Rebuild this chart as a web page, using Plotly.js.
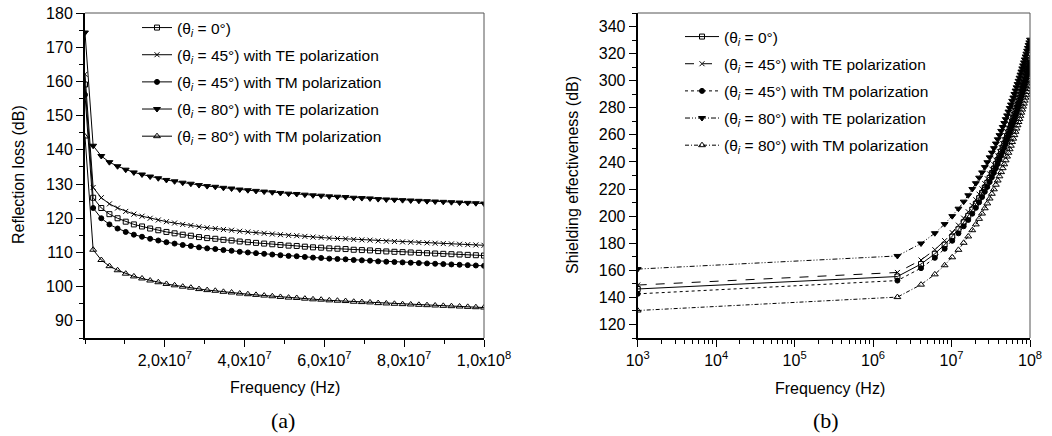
<!DOCTYPE html>
<html>
<head>
<meta charset="utf-8">
<script src="https://cdn.plot.ly/plotly-3.0.1.min.js"></script>
<style>html,body{margin:0;padding:0;background:#fff;}#chart{width:1052px;height:436px;}</style>
</head>
<body>
<div id="chart"></div>
<script>
// Frequency points (Hz)
const freq = [1e3, 2.042e6, 4.083e6, 6.123e6, 8.164e6, 1.0205e7, 1.2246e7, 1.4287e7, 1.6327e7, 1.8368e7,
  2.0409e7, 2.2450e7, 2.4490e7, 2.6531e7, 2.8572e7, 3.0613e7, 3.2654e7, 3.4695e7, 3.6735e7, 3.8776e7,
  4.0817e7, 4.2858e7, 4.4899e7, 4.6939e7, 4.8980e7, 5.1021e7, 5.3062e7, 5.5103e7, 5.7143e7, 5.9184e7,
  6.1225e7, 6.3266e7, 6.5307e7, 6.7347e7, 6.9388e7, 7.1429e7, 7.3470e7, 7.5511e7, 7.7551e7, 7.9592e7,
  8.1633e7, 8.3674e7, 8.5715e7, 8.7755e7, 8.9796e7, 9.1837e7, 9.3878e7, 9.5919e7, 9.7959e7, 1.0e8];

// (a) Reflection loss (dB)
const rl_0 = [159.1, 126.0, 123.0, 121.2, 120.0, 119.0, 118.2, 117.6, 117.0, 116.5, 116.0, 115.6, 115.2, 114.9, 114.5, 114.2, 114.0, 113.7, 113.5, 113.2, 113.0, 112.8, 112.6, 112.4, 112.2, 112.0, 111.9, 111.7, 111.5, 111.4, 111.2, 111.1, 111.0, 110.8, 110.7, 110.6, 110.4, 110.3, 110.2, 110.1, 110.0, 109.9, 109.8, 109.7, 109.6, 109.5, 109.4, 109.3, 109.2, 109.1];
const rl_45TE = [162.1, 129.0, 126.0, 124.2, 123.0, 122.0, 121.2, 120.6, 120.0, 119.5, 119.0, 118.6, 118.2, 117.9, 117.5, 117.2, 117.0, 116.7, 116.5, 116.2, 116.0, 115.8, 115.6, 115.4, 115.2, 115.0, 114.9, 114.7, 114.5, 114.4, 114.2, 114.1, 114.0, 113.8, 113.7, 113.6, 113.4, 113.3, 113.2, 113.1, 113.0, 112.9, 112.8, 112.7, 112.6, 112.5, 112.4, 112.3, 112.2, 112.1];
const rl_45TM = [156.1, 123.0, 120.0, 118.2, 117.0, 116.0, 115.2, 114.6, 114.0, 113.5, 113.0, 112.6, 112.2, 111.9, 111.5, 111.2, 111.0, 110.7, 110.5, 110.2, 110.0, 109.8, 109.6, 109.4, 109.2, 109.0, 108.9, 108.7, 108.5, 108.4, 108.2, 108.1, 108.0, 107.8, 107.7, 107.6, 107.4, 107.3, 107.2, 107.1, 107.0, 106.9, 106.8, 106.7, 106.6, 106.5, 106.4, 106.3, 106.2, 106.1];
const rl_80TE = [174.3, 141.2, 138.2, 136.4, 135.2, 134.2, 133.4, 132.8, 132.2, 131.7, 131.2, 130.8, 130.4, 130.1, 129.7, 129.4, 129.2, 128.9, 128.7, 128.4, 128.2, 128.0, 127.8, 127.6, 127.4, 127.2, 127.1, 126.9, 126.7, 126.6, 126.4, 126.3, 126.2, 126.0, 125.9, 125.8, 125.6, 125.5, 125.4, 125.3, 125.2, 125.1, 125.0, 124.9, 124.8, 124.7, 124.6, 124.5, 124.4, 124.3];
const rl_80TM = [143.9, 110.8, 107.8, 106.0, 104.8, 103.8, 103.0, 102.4, 101.8, 101.3, 100.8, 100.4, 100.0, 99.7, 99.3, 99.0, 98.8, 98.5, 98.3, 98.0, 97.8, 97.6, 97.4, 97.2, 97.0, 96.8, 96.7, 96.5, 96.3, 96.2, 96.0, 95.9, 95.8, 95.6, 95.5, 95.4, 95.2, 95.1, 95.0, 94.9, 94.8, 94.7, 94.6, 94.5, 94.4, 94.3, 94.2, 94.1, 94.0, 93.9];

// (b) Shielding effectiveness (dB)
const se_0 = [146.2, 155.4, 164.6, 172.2, 178.9, 184.8, 190.3, 195.5, 200.2, 204.8, 209.1, 213.2, 217.1, 221.0, 224.6, 228.2, 231.7, 235.0, 238.4, 241.5, 244.6, 247.7, 250.6, 253.5, 256.4, 259.2, 262.0, 264.6, 267.2, 269.9, 272.4, 275.0, 277.5, 279.9, 282.3, 284.7, 287.0, 289.3, 291.6, 293.9, 296.1, 298.3, 300.5, 302.7, 304.8, 306.9, 309.0, 311.1, 313.1, 315.1];
const se_45TE = [149.1, 158.4, 167.6, 175.2, 181.9, 187.8, 193.3, 198.5, 203.2, 207.8, 212.1, 216.2, 220.1, 224.0, 227.6, 231.2, 234.7, 238.0, 241.4, 244.5, 247.6, 250.7, 253.6, 256.5, 259.4, 262.2, 265.0, 267.6, 270.2, 272.9, 275.4, 278.0, 280.5, 282.9, 285.3, 287.7, 290.0, 292.3, 294.6, 296.9, 299.1, 301.3, 303.5, 305.7, 307.8, 309.9, 312.0, 314.1, 316.1, 318.1];
const se_45TM = [142.6, 152.4, 161.6, 169.2, 175.9, 181.8, 187.3, 192.5, 197.2, 201.8, 206.1, 210.2, 214.1, 218.0, 221.6, 225.2, 228.7, 232.0, 235.4, 238.5, 241.6, 244.7, 247.6, 250.5, 253.4, 256.2, 259.0, 261.6, 264.2, 266.9, 269.4, 272.0, 274.5, 276.9, 279.3, 281.7, 284.0, 286.3, 288.6, 290.9, 293.1, 295.3, 297.5, 299.7, 301.8, 303.9, 306.0, 308.1, 310.1, 312.1];
const se_80TE = [160.9, 170.6, 179.8, 187.4, 194.1, 200.0, 205.5, 210.7, 215.4, 220.0, 224.3, 228.4, 232.3, 236.2, 239.8, 243.4, 246.9, 250.2, 253.6, 256.7, 259.8, 262.9, 265.8, 268.7, 271.6, 274.4, 277.2, 279.8, 282.4, 285.1, 287.6, 290.2, 292.7, 295.1, 297.5, 299.9, 302.2, 304.5, 306.8, 309.1, 311.3, 313.5, 315.7, 317.9, 320.0, 322.1, 324.2, 326.3, 328.3, 330.3];
const se_80TM = [130.3, 140.2, 149.4, 157.0, 163.7, 169.6, 175.1, 180.3, 185.0, 189.6, 193.9, 198.0, 201.9, 205.8, 209.4, 213.0, 216.5, 219.8, 223.2, 226.3, 229.4, 232.5, 235.4, 238.3, 241.2, 244.0, 246.8, 249.4, 252.0, 254.7, 257.2, 259.8, 262.3, 264.7, 267.1, 269.5, 271.8, 274.1, 276.4, 278.7, 280.9, 283.1, 285.3, 287.5, 289.6, 291.7, 293.8, 295.9, 297.9, 299.9];

const seriesNames = [
  '(θ<sub><i>i</i></sub> = 0°)',
  '(θ<sub><i>i</i></sub> = 45°) with TE polarization',
  '(θ<sub><i>i</i></sub> = 45°) with TM polarization',
  '(θ<sub><i>i</i></sub> = 80°) with TE polarization',
  '(θ<sub><i>i</i></sub> = 80°) with TM polarization'
];
const xTickValsA = [2e7, 4e7, 6e7, 8e7, 1e8];
const xTickTextA = ['2,0x10<sup>7</sup>', '4,0x10<sup>7</sup>', '6,0x10<sup>7</sup>', '8,0x10<sup>7</sup>', '1,0x10<sup>8</sup>'];
const xTickValsB = [1e3, 1e4, 1e5, 1e6, 1e7, 1e8];
const xTickTextB = ['10<sup>3</sup>', '10<sup>4</sup>', '10<sup>5</sup>', '10<sup>6</sup>', '10<sup>7</sup>', '10<sup>8</sup>'];

const symbols = ['square-open', 'x-thin-open', 'circle', 'triangle-down', 'triangle-up-open'];
const msizes = [5, 5, 5, 6, 6];
const dashesB = ['solid', 'dash', 'dot', '5px,2px,1px,2px,1px,2px', '4px,2px,1px,2px'];
const rlSeries = [rl_0, rl_45TE, rl_45TM, rl_80TE, rl_80TM];
const seSeries = [se_0, se_45TE, se_45TM, se_80TE, se_80TM];

const traces = [];
rlSeries.forEach((ys, i) => {
  traces.push({
    type: 'scatter', mode: 'lines+markers', x: freq, y: ys, name: seriesNames[i],
    xaxis: 'x', yaxis: 'y', legend: 'legend', legendgroup: 'a' + i,
    line: {color: '#000', width: 1},
    marker: {symbol: symbols[i], size: msizes[i], color: '#000', line: {color: '#000', width: 1}}
  });
});
seSeries.forEach((ys, i) => {
  traces.push({
    type: 'scatter', mode: 'lines+markers', x: freq, y: ys, name: seriesNames[i],
    xaxis: 'x2', yaxis: 'y2', legend: 'legend2', legendgroup: 'b' + i,
    line: {color: '#000', width: 1, dash: dashesB[i]},
    marker: {symbol: symbols[i], size: msizes[i], color: '#000', line: {color: '#000', width: 1}}
  });
});

const W = 1052, H = 436;
const px = v => v / W, py = v => 1 - v / H;
const axisCommon = {
  showline: true, linewidth: 2, linecolor: '#000', showgrid: false, zeroline: false,
  ticks: 'outside', ticklen: 7, tickwidth: 1, tickcolor: '#000',
  tickfont: {size: 16, color: '#000'}
};
const frame = (xr, yr) => [
  {type: 'line', xref: xr + ' domain', yref: yr + ' domain', x0: 0, x1: 1, y0: 1, y1: 1, line: {color: '#555', width: 1}},
  {type: 'line', xref: xr + ' domain', yref: yr + ' domain', x0: 1, x1: 1, y0: 0, y1: 1, line: {color: '#555', width: 1}}
];

const legendCommon = {
  xanchor: 'left', yanchor: 'top', bgcolor: 'rgba(0,0,0,0)', borderwidth: 0,
  font: {size: 15.5, color: '#000'}, traceorder: 'grouped', tracegroupgap: 4
};

const ann = (text, x, y, extra) => Object.assign({
  text: text, xref: 'paper', yref: 'paper', x: x, y: y, xanchor: 'center', yanchor: 'middle',
  showarrow: false, font: {size: 16}
}, extra || {});

const layout = {
  width: W, height: H, margin: {l: 0, r: 0, t: 0, b: 0},
  paper_bgcolor: '#fff', plot_bgcolor: '#fff',
  font: {family: '"Liberation Sans", Arial, sans-serif', size: 16, color: '#000'},
  showlegend: true,
  xaxis: Object.assign({}, axisCommon, {
    domain: [px(85), px(484)], range: [0, 1e8], anchor: 'y',
    tickmode: 'array', tickvals: xTickValsA, ticktext: xTickTextA,
    minor: {tickmode: 'linear', tick0: 0, dtick: 1e7, ticks: 'outside', ticklen: 4, tickcolor: '#000'}
  }),
  yaxis: Object.assign({}, axisCommon, {
    domain: [py(338), py(13)], range: [85, 180], anchor: 'x',
    tick0: 0, dtick: 10,
    minor: {tick0: 0, dtick: 5, ticks: 'outside', ticklen: 4, tickcolor: '#000'}
  }),
  xaxis2: Object.assign({}, axisCommon, {
    domain: [px(637.7), px(1030)], type: 'log', range: [3, 8], anchor: 'y2',
    tickmode: 'array', tickvals: xTickValsB, ticktext: xTickTextB,
    minor: {dtick: 'D1', ticks: 'outside', ticklen: 4, tickcolor: '#000'}
  }),
  yaxis2: Object.assign({}, axisCommon, {
    domain: [py(338), py(13)], range: [110, 350], anchor: 'x2',
    tick0: 0, dtick: 20,
    minor: {tick0: 0, dtick: 10, ticks: 'outside', ticklen: 4, tickcolor: '#000'}
  }),
  legend: Object.assign({}, legendCommon, {x: px(137), y: py(11), itemwidth: 30}),
  legend2: Object.assign({}, legendCommon, {x: px(680), y: py(20), itemwidth: 34}),
  shapes: frame('x', 'y').concat(frame('x2', 'y2')),
  annotations: [
    ann('Reflection loss (dB)', px(18), py(175), {textangle: -90}),
    ann('Shielding effectiveness (dB)', px(572), py(175), {textangle: -90}),
    ann('Frequency (Hz)', px(285), py(387)),
    ann('Frequency (Hz)', px(830), py(388)),
    ann('(a)', px(283), py(420), {font: {size: 22, family: '"Liberation Serif", "Times New Roman", serif'}}),
    ann('(b)', px(826), py(420), {font: {size: 22, family: '"Liberation Serif", "Times New Roman", serif'}})
  ]
};

Plotly.newPlot('chart', traces, layout, {displayModeBar: false, staticPlot: true});
</script>
</body>
</html>
